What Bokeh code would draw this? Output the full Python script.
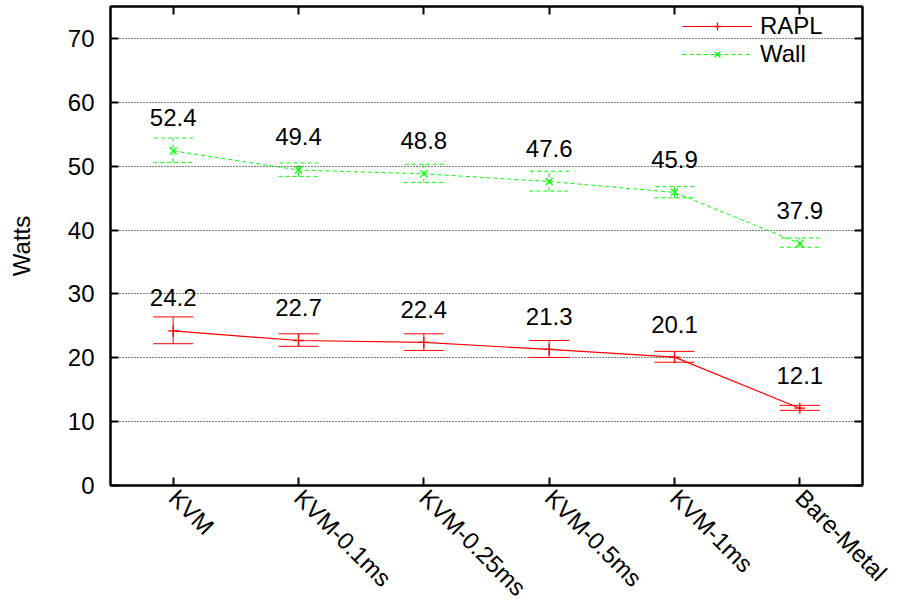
import math
from bokeh.plotting import figure
from bokeh.models import (ColumnDataSource, FactorRange, Range1d, Whisker, TeeHead,
                          Legend, LegendItem, LinearAxis, CategoricalAxis, FixedTicker)
from bokeh.embed import file_html
from bokeh.resources import INLINE
from bokeh.core.properties import value

categories = ["KVM", "KVM-0.1ms", "KVM-0.25ms", "KVM-0.5ms", "KVM-1ms", "Bare-Metal"]
rapl = [24.2, 22.7, 22.4, 21.3, 20.1, 12.1]
rapl_upper = [26.4, 23.75, 23.75, 22.7, 21.0, 12.55]
rapl_lower = [22.2, 21.8, 21.15, 20.05, 19.3, 11.77]
wall = [52.4, 49.4, 48.8, 47.6, 45.9, 37.9]
wall_upper = [54.4, 50.5, 50.3, 49.2, 46.8, 38.75]
wall_lower = [50.6, 48.4, 47.45, 46.1, 45.05, 37.3]
y_ticks = [0, 10, 20, 30, 40, 50, 60, 70]

FONT = "Liberation Sans"
RED = "#ff0000"
GREEN = "#00ff00"

src_r = ColumnDataSource(dict(x=categories, y=rapl, upper=rapl_upper, lower=rapl_lower,
                              lab=[f"{v:.1f}" for v in rapl]))
src_w = ColumnDataSource(dict(x=categories, y=wall, upper=wall_upper, lower=wall_lower,
                              lab=[f"{v:.1f}" for v in wall]))

p = figure(width=897, height=613, x_range=FactorRange(*categories, range_padding=0),
           y_range=Range1d(0, 75), output_backend="svg", toolbar_location=None,
           min_border_left=110, min_border_right=35, min_border_top=6, min_border_bottom=127)
p.background_fill_color = "white"
p.border_fill_color = "white"
p.outline_line_color = "black"
p.outline_line_width = 2

p.xgrid.visible = False
p.ygrid.ticker = FixedTicker(ticks=y_ticks)
p.ygrid.grid_line_color = "black"
p.ygrid.grid_line_dash = "1 2"
p.ygrid.grid_line_width = 1

# axes
p.yaxis.ticker = FixedTicker(ticks=y_ticks)
for ax in (p.xaxis[0], p.yaxis[0]):
    ax.axis_line_width = 2
    ax.major_tick_line_width = 2
    ax.major_tick_in = 8
    ax.major_tick_out = 0
    ax.minor_tick_line_color = None
    ax.major_label_text_font = FONT
    ax.major_label_text_font_size = "24px"
    ax.major_label_text_color = "black"
p.yaxis.major_label_standoff = 16
p.yaxis.axis_label = "Watts"
p.yaxis.axis_label_text_font = FONT
p.yaxis.axis_label_text_font_size = "24px"
p.yaxis.axis_label_text_font_style = "normal"
p.yaxis.axis_label_text_color = "black"
p.yaxis.axis_label_standoff = 30
p.xaxis.major_label_orientation = -math.pi / 4
p.xaxis.major_label_standoff = 8

# mirror axes (ticks only)
ra = LinearAxis(ticker=FixedTicker(ticks=y_ticks),
                major_label_overrides={t: "" for t in y_ticks}, major_label_text_color=None,
                major_label_text_font_size="1px",
                major_tick_in=8, major_tick_out=0, major_tick_line_width=2,
                minor_tick_line_color=None, axis_line_width=2, major_label_standoff=0)
p.add_layout(ra, "right")
ta = CategoricalAxis(major_label_overrides={c: "" for c in categories},
                     major_label_text_color=None, major_label_text_font_size="1px",
                     major_tick_in=8, major_tick_out=0,
                     major_tick_line_width=2, axis_line_width=2, major_label_standoff=0)
p.add_layout(ta, "above")

# error bars
wr = Whisker(source=src_r, base="x", upper="upper", lower="lower", dimension="height",
             line_color=RED, line_width=1,
             upper_head=TeeHead(size=40, line_color=RED, line_width=1),
             lower_head=TeeHead(size=40, line_color=RED, line_width=1))
ww = Whisker(source=src_w, base="x", upper="upper", lower="lower", dimension="height",
             line_color=GREEN, line_width=1, line_dash="4 3",
             upper_head=TeeHead(size=40, line_color=GREEN, line_width=1, line_dash="4 3"),
             lower_head=TeeHead(size=40, line_color=GREEN, line_width=1, line_dash="4 3"))
p.add_layout(wr)
p.add_layout(ww)

lr = p.line("x", "y", source=src_r, line_color=RED, line_width=1.2)
mr = p.scatter("x", "y", source=src_r, marker="cross", size=11, line_color=RED, line_width=1.3)
lw = p.line("x", "y", source=src_w, line_color=GREEN, line_width=1, line_dash="4 3")
mw = p.scatter("x", "y", source=src_w, marker="x", size=10, line_color=GREEN, line_width=1.3)

for s in (src_r, src_w):
    p.text("x", "y", text="lab", source=s, text_align="center", text_baseline="middle",
           y_offset=-33, text_font=value(FONT), text_font_size="24px", text_color="black")

legend = Legend(items=[LegendItem(label="RAPL", renderers=[lr, mr]),
                       LegendItem(label="Wall", renderers=[lw, mw])],
                location=(572, 417), orientation="vertical",
                glyph_width=70, glyph_height=20, label_height=20, spacing=0,
                padding=0, margin=0, label_standoff=8,
                label_text_font=FONT, label_text_font_size="24px",
                label_text_color="black",
                background_fill_alpha=0, border_line_alpha=0)
p.add_layout(legend)

open("out.html", "w").write(file_html(p, INLINE))
